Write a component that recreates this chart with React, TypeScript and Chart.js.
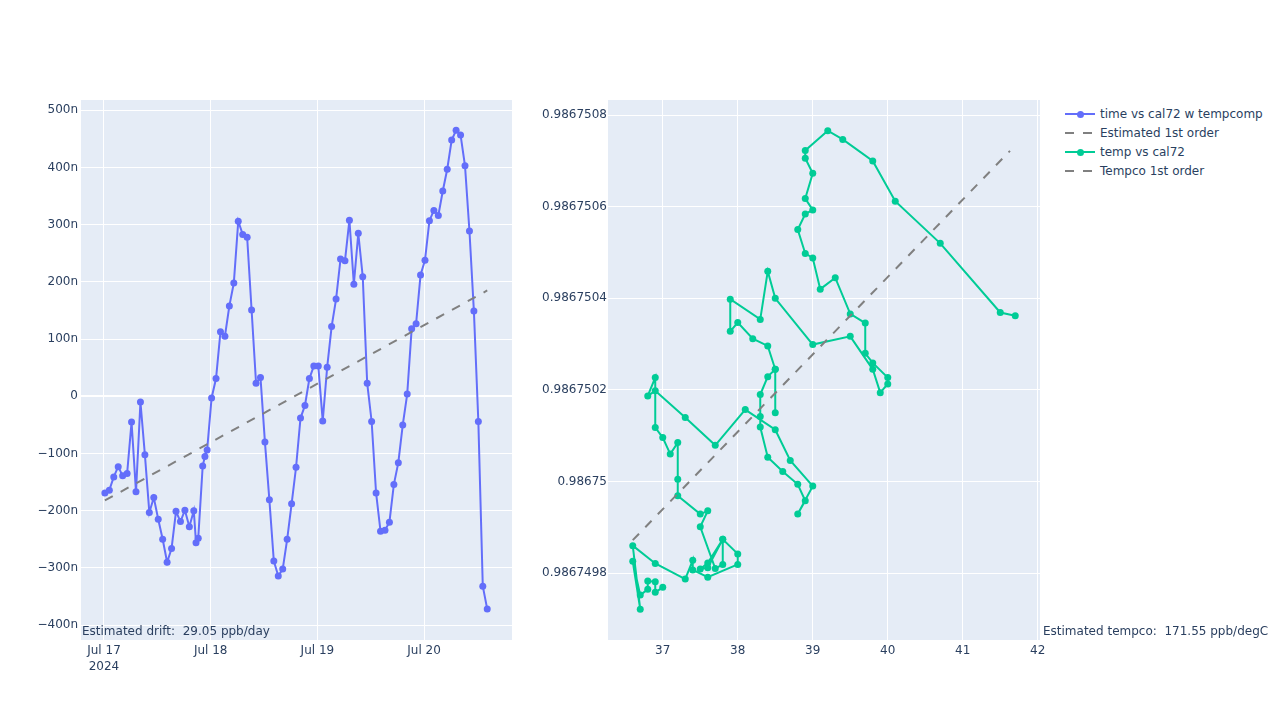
import React, { useEffect, useRef } from 'react';
import { Chart, registerables } from 'chart.js';
Chart.register(...registerables);

const FONT = '"DejaVu Sans", verdana, arial, sans-serif';
const TEXT = '#2a3f5f';
const BLUE = '#636efa';
const GREEN = '#00cc96';
const DASH = 'rgb(128,128,128)';

// ---- left plot: hours since Jul 17 2024 00:00, residual in ppb (n) ----
const timeHours = [
  0.2, 1.2, 2.2, 3.2, 4.2, 5.2, 6.2, 7.2, 8.2, 9.2,
  10.2, 11.2, 12.2, 13.2, 14.2, 15.2, 16.2, 17.2, 18.2, 19.2,
  20.2, 20.7, 21.2, 22.2, 22.7, 23.2, 24.2, 25.2, 26.2, 27.2,
  28.2, 29.2, 30.2, 31.2, 32.2, 33.2, 34.2, 35.2, 36.2, 37.2,
  38.2, 39.2, 40.2, 41.2, 42.2, 43.2, 44.2, 45.2, 46.2, 47.2,
  48.2, 49.2, 50.2, 51.2, 52.2, 53.2, 54.2, 55.2, 56.2, 57.2,
  58.2, 59.2, 60.2, 61.2, 62.2, 63.2, 64.2, 65.2, 66.2, 67.2,
  68.2, 69.2, 70.2, 71.2, 72.2, 73.2, 74.2, 75.2, 76.2, 77.2,
  78.2, 79.2, 80.2, 81.2, 82.2, 83.2, 84.2, 85.2, 86.2,
];
const tempcompPpb = [
  -169, -164, -141, -123, -139, -135, -45, -167, -10, -102,
  -203, -177, -215, -250, -290, -266, -201, -219, -199, -228,
  -200, -256, -248, -122, -105, -94, -3, 31, 113, 105,
  158, 198, 306, 283, 278, 151, 23, 33, -80, -181,
  -288, -314, -302, -250, -188, -124, -38, -16, 31, 53,
  53, -43, 51, 122, 170, 240, 237, 308, 196, 285,
  209, 23, -44, -169, -236, -234, -220, -154, -116, -50,
  4, 118, 127, 212, 238, 307, 325, 316, 359, 397,
  448, 465, 457, 403, 289, 149, -44, -332, -372,
];
const driftFitHours = [0.2, 86.2];
const driftFitPpb = [-182, 185];

const leftXTicks = [0, 24, 48, 72];
const leftXTickLabels: (string | string[])[] = [['Jul 17', '2024'], 'Jul 18', 'Jul 19', 'Jul 20'];
const leftYTicks = [-400, -300, -200, -100, 0, 100, 200, 300, 400, 500];

// ---- right plot: temperature (degC) vs cal72 ----
const tempC = [
  37.0, 36.9, 36.9, 36.8, 36.8, 36.7, 36.6, 36.7, 36.6, 36.9,
  37.3, 37.4, 37.4, 37.6, 38.0, 38.0, 37.8, 37.6, 37.5, 37.6,
  37.8, 37.8, 37.7, 37.5, 37.6, 37.5, 37.2, 37.2, 37.2, 37.1,
  37.0, 36.9, 36.9, 36.8, 36.9, 37.3, 37.7, 38.1, 38.5, 38.7,
  39.0, 38.8, 38.9, 38.8, 38.6, 38.4, 38.3, 38.3, 38.3, 38.4,
  38.5, 38.5, 38.5, 38.4, 38.2, 38.0, 37.9, 37.9, 38.3, 38.4,
  38.5, 39.0, 39.5, 39.8, 39.9, 40.0, 40.0, 39.8, 39.7, 39.7,
  39.5, 39.3, 39.1, 39.0, 38.9, 38.8, 38.9, 39.0, 38.9, 39.0,
  38.9, 38.9, 39.2, 39.4, 39.8, 40.1, 40.7, 41.5, 41.7,
];
const cal72 = [
  0.986749769, 0.986749758, 0.986749781, 0.986749783, 0.986749765, 0.986749752, 0.986749826, 0.986749721, 0.98674986, 0.986749821,
  0.986749787, 0.986749828, 0.986749807, 0.986749791, 0.986749819, 0.986749842, 0.986749874, 0.986749822, 0.986749809, 0.986749812,
  0.986749874, 0.986749819, 0.98674981, 0.986749901, 0.986749936, 0.986749929, 0.986749969, 0.986750005, 0.986750085, 0.98675006,
  0.986750096, 0.986750118, 0.986750227, 0.986750187, 0.986750198, 0.98675014, 0.986750079, 0.986750157, 0.986750113, 0.986750046,
  0.98674999, 0.986749929, 0.986749958, 0.986749994, 0.986750022, 0.986750053, 0.986750119, 0.986750142, 0.98675019, 0.986750229,
  0.986750245, 0.98675015, 0.986750245, 0.986750296, 0.986750312, 0.986750347, 0.986750328, 0.986750398, 0.986750354, 0.986750459,
  0.9867504, 0.986750299, 0.986750317, 0.986750245, 0.986750194, 0.986750213, 0.986750227, 0.986750259, 0.98675028, 0.986750346,
  0.986750366, 0.986750445, 0.98675042, 0.986750488, 0.986750498, 0.98675055, 0.986750584, 0.986750593, 0.986750618, 0.986750673,
  0.986750706, 0.986750723, 0.986750766, 0.986750747, 0.9867507, 0.986750612, 0.98675052, 0.986750369, 0.986750362,
];
const tempcoFitC = [36.6, 41.63];
const tempcoFitCal = [0.986749872, 0.986750722];

const rightXTicks = [37, 38, 39, 40, 41, 42];
const rightYTicks = [0.9867498, 0.98675, 0.9867502, 0.9867504, 0.9867506, 0.9867508];

const legendItems = [
  { label: 'time vs cal72 w tempcomp', color: BLUE, dashed: false },
  { label: 'Estimated 1st order', color: DASH, dashed: true },
  { label: 'temp vs cal72', color: GREEN, dashed: false },
  { label: 'Tempco 1st order', color: DASH, dashed: true },
];

const plotBg = {
  id: 'plotBg',
  beforeDraw(chart: any) {
    const { ctx, chartArea: a } = chart;
    ctx.save();
    ctx.fillStyle = '#E5ECF6';
    ctx.fillRect(a.left, a.top, a.right - a.left, a.bottom - a.top);
    ctx.restore();
  },
};

const tickFont = { family: FONT, size: 12, lineHeight: 1.4 };

function fmtLeftY(v: number) {
  if (v === 0) return '0';
  return v < 0 ? '\u2212' + Math.abs(v) + 'n' : v + 'n';
}
function fmtRightY(v: number) {
  return String(Number(v.toFixed(7)));
}

export default function App() {
  const leftRef = useRef<HTMLCanvasElement>(null);
  const rightRef = useRef<HTMLCanvasElement>(null);

  useEffect(() => {
    const left = new Chart(leftRef.current!, {
      type: 'line',
      data: {
        datasets: [
          {
            label: 'time vs cal72 w tempcomp',
            data: timeHours.map((t, i) => ({ x: t, y: tempcompPpb[i] })),
            borderColor: BLUE,
            backgroundColor: BLUE,
            borderWidth: 2,
            pointRadius: 3.5,
            pointBorderWidth: 0,
            pointBackgroundColor: BLUE,
            tension: 0,
            order: 1,
          },
          {
            label: 'Estimated 1st order',
            data: driftFitHours.map((t, i) => ({ x: t, y: driftFitPpb[i] })),
            borderColor: DASH,
            borderWidth: 2,
            borderDash: [9, 9],
            pointRadius: 0,
            order: 0,
          },
        ],
      },
      options: {
        animation: false,
        responsive: false,
        devicePixelRatio: 1,
        layout: { padding: { top: 100, right: 18, left: 0, bottom: 0 } },
        plugins: { legend: { display: false }, tooltip: { enabled: false } },
        scales: {
          x: {
            type: 'linear',
            min: -5.17,
            max: 91.77,
            afterBuildTicks: (s: any) => { s.ticks = leftXTicks.map((v) => ({ value: v })); },
            afterFit: (s: any) => { s.height = 80; },
            ticks: {
              callback: (v: any) => leftXTickLabels[leftXTicks.indexOf(Number(v))],
              color: TEXT,
              font: tickFont,
              padding: 2,
              maxRotation: 0,
              autoSkip: false,
            },
            grid: { color: '#ffffff', lineWidth: 1, drawTicks: false },
            border: { display: false },
          },
          y: {
            type: 'linear',
            min: -426,
            max: 518,
            afterBuildTicks: (s: any) => { s.ticks = leftYTicks.map((v) => ({ value: v })); },
            afterFit: (s: any) => { s.width = 81; },
            ticks: {
              callback: (v: any) => fmtLeftY(Number(v)),
              color: TEXT,
              font: { family: FONT, size: 12 },
              padding: 3,
              autoSkip: false,
            },
            grid: {
              color: '#ffffff',
              lineWidth: (ctx: any) => (ctx.tick && ctx.tick.value === 0 ? 2 : 1),
              drawTicks: false,
            },
            border: { display: false },
          },
        },
      } as any,
      plugins: [plotBg],
    });

    const right = new Chart(rightRef.current!, {
      type: 'line',
      data: {
        datasets: [
          {
            label: 'temp vs cal72',
            data: tempC.map((t, i) => ({ x: t, y: cal72[i] })),
            borderColor: GREEN,
            backgroundColor: GREEN,
            borderWidth: 2,
            pointRadius: 3.5,
            pointBorderWidth: 0,
            pointBackgroundColor: GREEN,
            tension: 0,
            order: 1,
          },
          {
            label: 'Tempco 1st order',
            data: tempcoFitC.map((t, i) => ({ x: t, y: tempcoFitCal[i] })),
            borderColor: DASH,
            borderWidth: 2,
            borderDash: [9, 9],
            pointRadius: 0,
            order: 0,
          },
        ],
      },
      options: {
        animation: false,
        responsive: false,
        devicePixelRatio: 1,
        layout: { padding: { top: 100, right: 20, left: 0, bottom: 0 } },
        plugins: { legend: { display: false }, tooltip: { enabled: false } },
        scales: {
          x: {
            type: 'linear',
            min: 36.27,
            max: 42.03,
            afterBuildTicks: (s: any) => { s.ticks = rightXTicks.map((v) => ({ value: v })); },
            afterFit: (s: any) => { s.height = 80; },
            ticks: {
              callback: (v: any) => String(v),
              color: TEXT,
              font: tickFont,
              padding: 2,
              maxRotation: 0,
              autoSkip: false,
            },
            grid: { color: '#ffffff', lineWidth: 1, drawTicks: false },
            border: { display: false },
          },
          y: {
            type: 'linear',
            min: 0.986749654,
            max: 0.986750833,
            afterBuildTicks: (s: any) => { s.ticks = rightYTicks.map((v) => ({ value: v })); },
            afterFit: (s: any) => { s.width = 88; },
            ticks: {
              callback: (v: any) => fmtRightY(Number(v)),
              color: TEXT,
              font: { family: FONT, size: 12 },
              padding: 1,
              autoSkip: false,
            },
            grid: { color: '#ffffff', lineWidth: 1, drawTicks: false },
            border: { display: false },
          },
        },
      } as any,
      plugins: [plotBg],
    });

    return () => {
      left.destroy();
      right.destroy();
    };
  }, []);

  const legendTop = 114;
  const legendStep = 19;

  return (
    <div
      style={{
        position: 'fixed',
        left: 0,
        top: 0,
        width: 1280,
        height: 720,
        background: '#ffffff',
        fontFamily: FONT,
        color: TEXT,
        fontSize: 12,
        overflow: 'hidden',
      }}
    >
      <canvas ref={leftRef} width={530} height={720} style={{ position: 'absolute', left: 0, top: 0 }} />
      <canvas ref={rightRef} width={540} height={720} style={{ position: 'absolute', left: 520, top: 0 }} />

      {legendItems.map((it, i) => {
        const cy = legendTop + i * legendStep;
        return (
          <div key={it.label}>
            {it.dashed ? (
              <>
                <div style={{ position: 'absolute', left: 1065, top: cy - 1, width: 9, height: 2, background: it.color }} />
                <div style={{ position: 'absolute', left: 1083, top: cy - 1, width: 9, height: 2, background: it.color }} />
              </>
            ) : (
              <>
                <div style={{ position: 'absolute', left: 1065, top: cy - 1, width: 30, height: 2, background: it.color }} />
                <div
                  style={{
                    position: 'absolute',
                    left: 1077,
                    top: cy - 3.5,
                    width: 7,
                    height: 7,
                    borderRadius: '50%',
                    background: it.color,
                  }}
                />
              </>
            )}
            <div
              style={{
                position: 'absolute',
                left: 1100,
                top: cy - 9,
                height: 18,
                lineHeight: '18px',
                whiteSpace: 'pre',
              }}
            >
              {it.label}
            </div>
          </div>
        );
      })}

      <div style={{ position: 'absolute', left: 82, top: 622, lineHeight: '18px', whiteSpace: 'pre' }}>
        {'Estimated drift:  29.05 ppb/day'}
      </div>
      <div style={{ position: 'absolute', left: 1043, top: 622, lineHeight: '18px', whiteSpace: 'pre' }}>
        {'Estimated tempco:  171.55 ppb/degC'}
      </div>
    </div>
  );
}
